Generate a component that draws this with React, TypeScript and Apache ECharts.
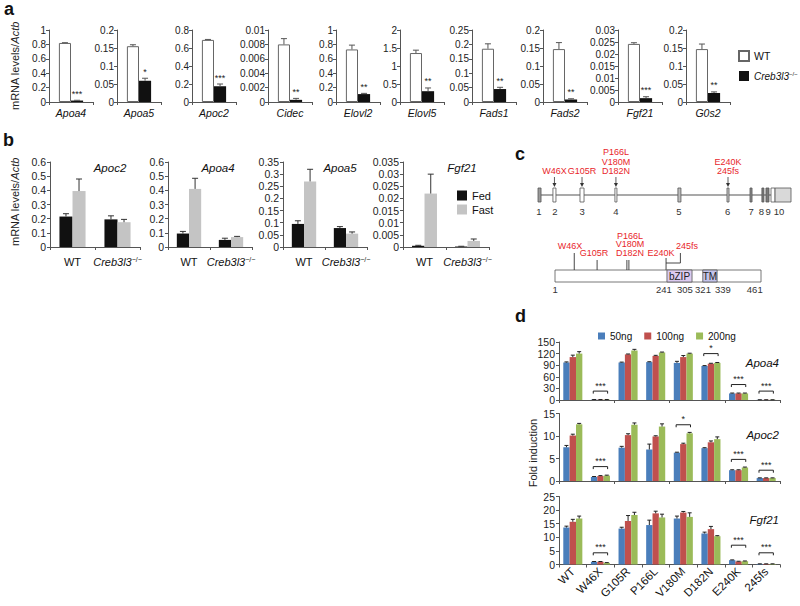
import React, { useEffect, useRef } from 'react';
import * as echarts from 'echarts';

const FONT = '"Liberation Sans", Arial, Helvetica, sans-serif';

// ---------- Panel a ----------
const genesA = ['Apoa4', 'Apoa5', 'Apoc2', 'Cidec', 'Elovl2', 'Elovl5', 'Fads1', 'Fads2', 'Fgf21', 'G0s2'];
const wtA = [0.82, 0.155, 0.69, 0.008, 0.73, 1.36, 0.185, 0.147, 0.0242, 0.147];
const wtErrA = [0.004, 0.004, 0.005, 0.0008, 0.06, 0.08, 0.017, 0.018, 0.0005, 0.014];
const koA = [0.02, 0.059, 0.175, 0.0003, 0.11, 0.3, 0.045, 0.007, 0.0016, 0.025];
const koErrA = [0.004, 0.007, 0.025, 0.0002, 0.01, 0.09, 0.006, 0.002, 0.0006, 0.003];
const sigA = ['***', '*', '***', '**', '**', '**', '**', '**', '***', '**'];
const maxA = [1, 0.2, 0.8, 0.01, 1, 2, 0.25, 0.2, 0.03, 0.2];
const stepA = [0.2, 0.05, 0.2, 0.002, 0.2, 0.5, 0.05, 0.05, 0.005, 0.05];
const leftA = [49, 117, 192, 268, 336, 400, 472, 543, 618, 686];

// ---------- Panel b ----------
const genesB = ['Apoc2', 'Apoa4', 'Apoa5', 'Fgf21'];
const groupsB = ['WT', 'Creb3l3'];
const fedB = [[0.215, 0.195], [0.095, 0.05], [0.095, 0.078], [0.0005, 0.0002]];
const fedErrB = [[0.02, 0.025], [0.015, 0.012], [0.013, 0.006], [0.0002, 0.0001]];
const fastB = [[0.395, 0.175], [0.41, 0.07], [0.27, 0.055], [0.022, 0.0025]];
const fastErrB = [[0.085, 0.02], [0.075, 0.005], [0.05, 0.007], [0.008, 0.0008]];
const maxB = [0.6, 0.6, 0.35, 0.035];
const stepB = [0.1, 0.1, 0.05, 0.005];
const leftB = [50, 168, 283, 403];
const widthB = [90, 84, 84, 86];
const geneLabelXB = [110, 218, 340, 462];

// ---------- Panel c ----------
const exonStart = [0, 5.9, 16.6, 30.4, 55.3, 74.7, 83.8, 88.5, 90.1, 92.1, 93.7];
const exonEnd = [1.2, 7.1, 18.2, 31.2, 56.5, 75.5, 84.6, 89.3, 91.3, 93.7, 100];
const exonFill = ['#9a9a9a', '#ffffff', '#ffffff', '#ffffff', '#bdbdbd', '#c8c8c8', '#8a8a8a', '#7a7a7a', '#7a7a7a', '#ffffff', '#d9d9d9'];
const exonLabel = ['1', '2', '3', '4', '5', '6', '7', '8', '9', '10'];
const exonLabelPos = [0.4, 6.7, 17.4, 30.8, 55.7, 75.0, 84.2, 88.3, 91.0, 95.3];
const geneMutPos = [6.5, 17.4, 30.8, 75.1];
const geneMutText = ['W46X', 'G105R', 'P166L\nV180M\nD182N', 'E240K\n245fs'];

const proteinSpan = [1, 461];
const domainStart = [251, 331];
const domainEnd = [307, 363];
const domainName = ['bZIP', 'TM'];
const protTickPos = [1.5, 244, 291, 331.5, 376, 447];
const protTickText = ['1', '241', '305', '321', '339', '461'];
const protMutPos = [44, 95, 161.5, 166, 249];
const protMutLen = [17, 10, 10, 10, 12];
const protLabelPos = [34.5, 88, 168.5, 237.7, 296];
const protLabelText = ['W46X', 'G105R', 'P166L\nV180M\nD182N', 'E240K', '245fs'];
const protLabelLift = [20, 13, 13, 13, 20];
const fsBracket = [249, 281];

// ---------- Panel d ----------
const mutantsD = ['WT', 'W46X', 'G105R', 'P166L', 'V180M', 'D182N', 'E240K', '245fs'];
const dosesD = ['50ng', '100ng', '200ng'];
const doseColors = ['#4a7ebb', '#c0504d', '#9bbb59'];
const genesD = ['Apoa4', 'Apoc2', 'Fgf21'];
const apoa4D = [[97, 111, 120], [1, 1, 1], [97, 118, 128], [98, 114, 123], [96, 111, 120], [88, 94, 96], [17, 17, 17], [0.5, 0.5, 0.5]];
const apoa4ErrD = [[1.5, 5, 5], [0.3, 0.3, 0.3], [1, 1, 3], [1, 1.5, 1], [4, 4, 1], [1, 1, 1], [1, 1, 1], [0.2, 0.2, 0.2]];
const apoc2D = [[7.5, 10.1, 12.6], [0.9, 1.1, 1.2], [7.4, 10.2, 12.5], [7.0, 9.9, 12.1], [6.3, 8.2, 10.6], [7.3, 8.6, 9.3], [2.4, 2.4, 3.0], [0.65, 0.65, 0.65]];
const apoc2ErrD = [[0.4, 0.3, 0.2], [0.1, 0.1, 0.1], [0.3, 0.3, 0.4], [1.2, 0.15, 0.6], [0.1, 0.2, 0.2], [0.1, 0.3, 0.5], [0.1, 0.1, 0.1], [0.05, 0.05, 0.05]];
const fgf21D = [[13.6, 15.7, 16.9], [1.0, 1.0, 0.6], [13.2, 16.0, 18.2], [14.5, 18.8, 17.3], [16.9, 19.1, 17.5], [11.4, 13.0, 10.4], [1.6, 1.1, 1.2], [0.2, 0.2, 0.2]];
const fgf21ErrD = [[0.5, 0.9, 0.9], [0.1, 0.1, 0.1], [0.5, 2.0, 1.0], [1.8, 0.8, 1.2], [0.9, 0.4, 1.5], [0.5, 1.0, 0.2], [0.1, 0.1, 0.1], [0.05, 0.05, 0.05]];
const valsD = [apoa4D, apoc2D, fgf21D];
const errsD = [apoa4ErrD, apoc2ErrD, fgf21ErrD];
const maxD = [150, 15, 25];
const stepD = [30, 5, 5];
const topD = [342, 413.5, 496.5];
const heightD = [58, 67.5, 68];
const sigCatD = [[1, 5, 6, 7], [1, 4, 6, 7], [1, 6, 7]];
const sigValD = [[23, 120, 40, 23], [3.2, 12.5, 4.8, 2.4], [4.3, 7.1, 4.3]];
const sigTextD = [['***', '*', '***', '***'], ['***', '*', '***', '***'], ['***', '***', '***']];
const geneLabelYD = [363, 435, 520];

const RED = '#e8262b';

const errRender = (n: number, gap: number, capW: number, color: string) => (params: any, api: any) => {
  const cat = api.value(0);
  const v = api.value(1);
  const e = api.value(2);
  const k = api.value(3);
  const band = api.size([1, 0])[0];
  const bw = (band * (1 - gap)) / n;
  const dx = (k - (n - 1) / 2) * bw;
  const p0 = api.coord([cat, v]);
  const p1 = api.coord([cat, v + e]);
  const x = p0[0] + dx;
  return {
    type: 'group',
    children: [
      { type: 'line', shape: { x1: x, y1: p0[1], x2: x, y2: p1[1] }, style: { stroke: color, lineWidth: 1 } },
      { type: 'line', shape: { x1: x - capW / 2, y1: p1[1], x2: x + capW / 2, y2: p1[1] }, style: { stroke: color, lineWidth: 1 } },
    ],
  };
};

const starRender = (text: string, n: number, gap: number, k: number) => (params: any, api: any) => {
  const band = api.size([1, 0])[0];
  const bw = (band * (1 - gap)) / n;
  const dx = (k - (n - 1) / 2) * bw;
  const p = api.coord([api.value(0), api.value(1)]);
  return {
    type: 'text',
    x: p[0] + dx,
    y: p[1] - 2,
    style: { text, fontSize: 9, fill: '#222', align: 'center', verticalAlign: 'bottom', fontFamily: FONT },
  };
};

const bracketRender = (texts: string[], frac: number) => (params: any, api: any) => {
  const band = api.size([1, 0])[0];
  const p = api.coord([api.value(0), api.value(1)]);
  const hw = (band * frac) / 2;
  return {
    type: 'group',
    children: [
      {
        type: 'polyline',
        shape: { points: [[p[0] - hw, p[1] + 2.5], [p[0] - hw, p[1]], [p[0] + hw, p[1]], [p[0] + hw, p[1] + 2.5]] },
        style: { stroke: '#222', fill: null, lineWidth: 1 },
      },
      {
        type: 'text',
        x: p[0],
        y: p[1] - 1,
        style: { text: texts[params.dataIndex], fontSize: 9, fill: '#222', align: 'center', verticalAlign: 'bottom', fontFamily: FONT },
      },
    ],
  };
};

function buildOption() {
  const grid: any[] = [];
  const xAxis: any[] = [];
  const yAxis: any[] = [];
  const series: any[] = [];
  const axisLine = { show: true, lineStyle: { color: '#555', width: 1 } };
  const axisTick = { show: true, length: 3, lineStyle: { color: '#555' } };
  let g = 0;

  // ----- panel a -----
  genesA.forEach((gene, i) => {
    grid.push({ left: leftA[i], top: 30, width: 44, height: 72 });
    xAxis.push({
      type: 'category', gridIndex: g, data: [gene], axisLine, axisTick,
      axisLabel: { fontStyle: 'italic', fontSize: 10.5, color: '#111', margin: 5, fontFamily: FONT },
    });
    yAxis.push({
      type: 'value', gridIndex: g, min: 0, max: maxA[i], interval: stepA[i], axisLine, axisTick,
      splitLine: { show: false }, axisLabel: { fontSize: 10, color: '#222', margin: 3, fontFamily: FONT },
    });
    series.push({
      type: 'bar', name: 'WT', xAxisIndex: g, yAxisIndex: g, data: [wtA[i]], barGap: '0%', barCategoryGap: '45%',
      itemStyle: { color: '#fff', borderColor: '#666', borderWidth: 1 },
    });
    series.push({
      type: 'bar', name: 'Creb3l3', xAxisIndex: g, yAxisIndex: g, data: [koA[i]], barGap: '0%', barCategoryGap: '45%',
      itemStyle: { color: '#111' },
    });
    series.push({
      type: 'custom', xAxisIndex: g, yAxisIndex: g, clip: false, z: 5, silent: true,
      renderItem: errRender(2, 0.45, 6, '#555'),
      data: [[0, wtA[i], wtErrA[i], 0], [0, koA[i], koErrA[i], 1]],
    });
    series.push({
      type: 'custom', xAxisIndex: g, yAxisIndex: g, clip: false, z: 5, silent: true,
      renderItem: starRender(sigA[i], 2, 0.45, 1),
      data: [[0, koA[i] + koErrA[i]]],
    });
    g++;
  });

  // ----- panel b -----
  genesB.forEach((gene, i) => {
    grid.push({ left: leftB[i], top: 162, width: widthB[i], height: 85 });
    xAxis.push({
      type: 'category', gridIndex: g, data: groupsB, axisLine, axisTick,
      axisLabel: {
        fontSize: 11, color: '#111', margin: 9, fontFamily: FONT, interval: 0,
        formatter: (v: string) => (v === 'WT' ? 'WT' : '{i|Creb3l3}{s|−/−}'),
        rich: { i: { fontStyle: 'italic', fontSize: 11, fontFamily: FONT }, s: { fontSize: 7, verticalAlign: 'top', fontFamily: FONT } },
      },
    });
    yAxis.push({
      type: 'value', gridIndex: g, min: 0, max: maxB[i], interval: stepB[i], axisLine, axisTick,
      splitLine: { show: false }, axisLabel: { fontSize: 10.5, color: '#222', margin: 4, fontFamily: FONT },
    });
    series.push({
      type: 'bar', name: 'Fed', xAxisIndex: g, yAxisIndex: g, data: fedB[i], barGap: '0%', barCategoryGap: '42%',
      itemStyle: { color: '#111' },
    });
    series.push({
      type: 'bar', name: 'Fast', xAxisIndex: g, yAxisIndex: g, data: fastB[i], barGap: '0%', barCategoryGap: '42%',
      itemStyle: { color: '#c4c4c4' },
    });
    const errData: any[] = [];
    groupsB.forEach((_, c) => {
      errData.push([c, fedB[i][c], fedErrB[i][c], 0]);
      errData.push([c, fastB[i][c], fastErrB[i][c], 1]);
    });
    series.push({
      type: 'custom', xAxisIndex: g, yAxisIndex: g, clip: false, z: 5, silent: true,
      renderItem: errRender(2, 0.42, 6, '#333'), data: errData,
    });
    g++;
  });

  // ----- panel d -----
  genesD.forEach((gene, k) => {
    grid.push({ left: 559, top: topD[k], width: 221, height: heightD[k] });
    xAxis.push({
      type: 'category', gridIndex: g, data: mutantsD, axisLine, axisTick,
      axisLabel: k === 2
        ? { show: true, rotate: 45, fontSize: 11.5, color: '#111', margin: 5, interval: 0, fontFamily: FONT }
        : { show: false },
    });
    yAxis.push({
      type: 'value', gridIndex: g, min: 0, max: maxD[k], interval: stepD[k], axisLine, axisTick,
      splitLine: { show: false }, axisLabel: { fontSize: 10.5, color: '#222', margin: 4, fontFamily: FONT },
    });
    dosesD.forEach((dose, j) => {
      series.push({
        type: 'bar', name: dose, xAxisIndex: g, yAxisIndex: g, barGap: '0%', barCategoryGap: '31%',
        data: mutantsD.map((_, m) => valsD[k][m][j]),
        itemStyle: { color: doseColors[j] },
      });
    });
    const errData: any[] = [];
    mutantsD.forEach((_, m) => dosesD.forEach((__, j) => errData.push([m, valsD[k][m][j], errsD[k][m][j], j])));
    series.push({
      type: 'custom', xAxisIndex: g, yAxisIndex: g, clip: false, z: 5, silent: true,
      renderItem: errRender(3, 0.31, 4, '#222'), data: errData,
    });
    series.push({
      type: 'custom', xAxisIndex: g, yAxisIndex: g, clip: false, z: 5, silent: true,
      renderItem: bracketRender(sigTextD[k], 0.52),
      data: sigCatD[k].map((c, s) => [c, sigValD[k][s]]),
    });
    g++;
  });

  // ----- panel c: gene structure -----
  const gGene = g;
  grid.push({ left: 538, top: 188, width: 253, height: 14 });
  xAxis.push({ type: 'value', gridIndex: g, min: 0, max: 100, show: false });
  yAxis.push({ type: 'value', gridIndex: g, min: 0, max: 1, show: false });
  g++;
  series.push({
    type: 'custom', xAxisIndex: gGene, yAxisIndex: gGene, clip: false, silent: true,
    data: [[exonStart[0], exonEnd[exonEnd.length - 1]]],
    renderItem: (p: any, api: any) => {
      const a = api.coord([api.value(0), 0.5]);
      const b = api.coord([api.value(1), 0.5]);
      return { type: 'line', shape: { x1: a[0], y1: a[1], x2: b[0], y2: b[1] }, style: { stroke: '#555', lineWidth: 1.2 } };
    },
  });
  series.push({
    type: 'custom', xAxisIndex: gGene, yAxisIndex: gGene, clip: false, silent: true, z: 3,
    data: exonStart.map((s, i) => [s, exonEnd[i], i]),
    renderItem: (p: any, api: any) => {
      const a = api.coord([api.value(0), 1]);
      const b = api.coord([api.value(1), 0]);
      return {
        type: 'rect', shape: { x: a[0], y: a[1], width: b[0] - a[0], height: b[1] - a[1] },
        style: { fill: exonFill[api.value(2)], stroke: '#555', lineWidth: 0.8 },
      };
    },
  });
  series.push({
    type: 'custom', xAxisIndex: gGene, yAxisIndex: gGene, clip: false, silent: true,
    data: exonLabelPos.map((x, i) => [x, i]),
    renderItem: (p: any, api: any) => {
      const a = api.coord([api.value(0), 0]);
      return {
        type: 'text', x: a[0], y: a[1] + 9,
        style: { text: exonLabel[api.value(1)], fontSize: 9.5, fill: '#333', align: 'center', verticalAlign: 'middle', fontFamily: FONT },
      };
    },
  });
  series.push({
    type: 'custom', xAxisIndex: gGene, yAxisIndex: gGene, clip: false, silent: true,
    data: geneMutPos.map((x, i) => [x, i]),
    renderItem: (p: any, api: any) => {
      const a = api.coord([api.value(0), 1]);
      const x = a[0];
      const y = a[1];
      return {
        type: 'group',
        children: [
          { type: 'line', shape: { x1: x, y1: y - 11, x2: x, y2: y - 3 }, style: { stroke: '#333', lineWidth: 0.8 } },
          { type: 'polygon', shape: { points: [[x - 2, y - 5], [x + 2, y - 5], [x, y - 1]] }, style: { fill: '#333' } },
          {
            type: 'text', x, y: y - 12,
            style: {
              text: geneMutText[api.value(1)], fontSize: 9, lineHeight: 9.5, fill: RED,
              align: 'center', verticalAlign: 'bottom', fontFamily: FONT,
            },
          },
        ],
      };
    },
  });

  // ----- panel c: protein -----
  const gProt = g;
  grid.push({ left: 555, top: 270, width: 206, height: 12 });
  xAxis.push({ type: 'value', gridIndex: g, min: proteinSpan[0], max: proteinSpan[1], show: false });
  yAxis.push({ type: 'value', gridIndex: g, min: 0, max: 1, show: false });
  g++;
  series.push({
    type: 'custom', xAxisIndex: gProt, yAxisIndex: gProt, clip: false, silent: true,
    data: [[proteinSpan[0], proteinSpan[1]]],
    renderItem: (p: any, api: any) => {
      const a = api.coord([api.value(0), 1]);
      const b = api.coord([api.value(1), 0]);
      return {
        type: 'rect', shape: { x: a[0], y: a[1], width: b[0] - a[0], height: b[1] - a[1] },
        style: { fill: '#fff', stroke: '#555', lineWidth: 0.8 },
      };
    },
  });
  series.push({
    type: 'custom', xAxisIndex: gProt, yAxisIndex: gProt, clip: false, silent: true, z: 3,
    data: domainStart.map((s, i) => [s, domainEnd[i], i]),
    renderItem: (p: any, api: any) => {
      const a = api.coord([api.value(0), 1]);
      const b = api.coord([api.value(1), 0]);
      const i = api.value(2);
      return {
        type: 'group',
        children: [
          {
            type: 'rect', shape: { x: a[0], y: a[1], width: b[0] - a[0], height: b[1] - a[1] },
            style: { fill: i === 0 ? '#dccbf0' : '#c3c3ea', stroke: '#555', lineWidth: 0.8 },
          },
          {
            type: 'text', x: (a[0] + b[0]) / 2, y: (a[1] + b[1]) / 2,
            style: { text: domainName[i], fontSize: 10, fill: '#222', align: 'center', verticalAlign: 'middle', fontFamily: FONT },
          },
        ],
      };
    },
  });
  series.push({
    type: 'custom', xAxisIndex: gProt, yAxisIndex: gProt, clip: false, silent: true,
    data: protTickPos.map((x, i) => [x, i]),
    renderItem: (p: any, api: any) => {
      const a = api.coord([api.value(0), 0]);
      return {
        type: 'text', x: a[0], y: a[1] + 7,
        style: { text: protTickText[api.value(1)], fontSize: 9.5, fill: '#333', align: 'center', verticalAlign: 'middle', fontFamily: FONT },
      };
    },
  });
  series.push({
    type: 'custom', xAxisIndex: gProt, yAxisIndex: gProt, clip: false, silent: true,
    data: protMutPos.map((x, i) => [x, i]),
    renderItem: (p: any, api: any) => {
      const a = api.coord([api.value(0), 1]);
      const len = protMutLen[api.value(1)];
      return { type: 'line', shape: { x1: a[0], y1: a[1] - len, x2: a[0], y2: a[1] }, style: { stroke: '#333', lineWidth: 0.9 } };
    },
  });
  series.push({
    type: 'custom', xAxisIndex: gProt, yAxisIndex: gProt, clip: false, silent: true,
    data: [[fsBracket[0], fsBracket[1]]],
    renderItem: (p: any, api: any) => {
      const a = api.coord([api.value(0), 1]);
      const b = api.coord([api.value(1), 1]);
      return {
        type: 'polyline',
        shape: { points: [[a[0], a[1] - 7], [b[0], b[1] - 7], [b[0], b[1] - 17]] },
        style: { stroke: '#333', fill: null, lineWidth: 0.9 },
      };
    },
  });
  series.push({
    type: 'custom', xAxisIndex: gProt, yAxisIndex: gProt, clip: false, silent: true,
    data: protLabelPos.map((x, i) => [x, i]),
    renderItem: (p: any, api: any) => {
      const i = api.value(1);
      const a = api.coord([api.value(0), 1]);
      return {
        type: 'text', x: a[0], y: a[1] - protLabelLift[i],
        style: { text: protLabelText[i], fontSize: 9, lineHeight: 8.5, fill: RED, align: 'center', verticalAlign: 'bottom', fontFamily: FONT },
      };
    },
  });

  const graphic: any[] = [
    { type: 'text', left: 4, top: 0, style: { text: 'a', font: `bold 18px ${FONT}`, fill: '#111' } },
    { type: 'text', left: 3, top: 131, style: { text: 'b', font: `bold 18px ${FONT}`, fill: '#111' } },
    { type: 'text', left: 515, top: 145, style: { text: 'c', font: `bold 18px ${FONT}`, fill: '#111' } },
    { type: 'text', left: 515, top: 307, style: { text: 'd', font: `bold 18px ${FONT}`, fill: '#111' } },
    {
      type: 'text', x: 15, y: 66, rotation: Math.PI / 2,
      style: {
        text: '{n|mRNA levels/}{i|Actb}', align: 'center', verticalAlign: 'middle',
        rich: { n: { fontSize: 11, fontFamily: FONT, fill: '#222' }, i: { fontSize: 11, fontStyle: 'italic', fontFamily: FONT, fill: '#222' } },
      },
    },
    {
      type: 'text', x: 15, y: 202, rotation: Math.PI / 2,
      style: {
        text: '{n|mRNA levels/}{i|Actb}', align: 'center', verticalAlign: 'middle',
        rich: { n: { fontSize: 11, fontFamily: FONT, fill: '#222' }, i: { fontSize: 11, fontStyle: 'italic', fontFamily: FONT, fill: '#222' } },
      },
    },
    {
      type: 'text', x: 533, y: 453, rotation: Math.PI / 2,
      style: { text: 'Fold induction', fontSize: 11, fontFamily: FONT, fill: '#222', align: 'center', verticalAlign: 'middle' },
    },
  ];
  genesB.forEach((gene, i) => {
    graphic.push({
      type: 'text', x: geneLabelXB[i], y: 168,
      style: { text: gene, fontSize: 11.5, fontStyle: 'italic', fontFamily: FONT, fill: '#111', align: 'center', verticalAlign: 'middle' },
    });
  });
  genesD.forEach((gene, k) => {
    graphic.push({
      type: 'text', x: 779, y: geneLabelYD[k],
      style: { text: gene, fontSize: 11.5, fontStyle: 'italic', fontFamily: FONT, fill: '#111', align: 'right', verticalAlign: 'middle' },
    });
  });

  const legend = [
    {
      left: 733, top: 45, orient: 'vertical', icon: 'rect', itemWidth: 10, itemHeight: 10, itemGap: 9,
      selectedMode: false, data: ['WT', 'Creb3l3'],
      formatter: (n: string) => (n === 'WT' ? 'WT' : '{i|Creb3l3}{s|−/−}'),
      textStyle: {
        fontSize: 10.5, fontFamily: FONT, color: '#111',
        rich: { i: { fontSize: 10, fontStyle: 'italic', fontFamily: FONT }, s: { fontSize: 6, verticalAlign: 'top', fontFamily: FONT } },
      },
    },
    {
      left: 452, top: 185, orient: 'vertical', icon: 'rect', itemWidth: 10, itemHeight: 10, itemGap: 3,
      selectedMode: false, data: ['Fed', 'Fast'],
      textStyle: { fontSize: 11, fontFamily: FONT, color: '#111' },
    },
    {
      left: 593, top: 326, orient: 'horizontal', icon: 'rect', itemWidth: 7, itemHeight: 7, itemGap: 12,
      selectedMode: false, data: dosesD,
      textStyle: { fontSize: 10, fontFamily: FONT, color: '#111' },
    },
  ];

  return {
    animation: false,
    backgroundColor: '#fff',
    textStyle: { fontFamily: FONT },
    grid,
    xAxis,
    yAxis,
    series,
    legend,
    graphic,
  };
}

export default function App() {
  const ref = useRef<HTMLDivElement>(null);
  useEffect(() => {
    document.body.style.margin = '0';
    const chart = echarts.init(ref.current as HTMLDivElement, undefined, { renderer: 'svg' });
    chart.setOption(buildOption() as any);
    return () => chart.dispose();
  }, []);
  return <div ref={ref} style={{ width: 800, height: 606, background: '#fff' }} />;
}
